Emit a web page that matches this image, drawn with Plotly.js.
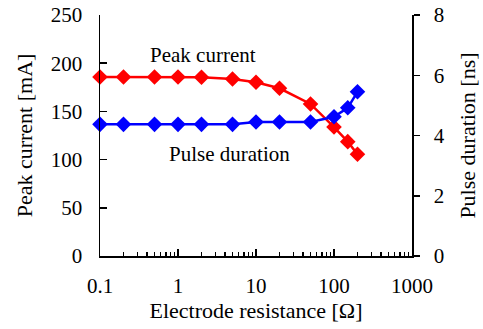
<!DOCTYPE html>
<html>
<head>
<meta charset="utf-8">
<script src="https://cdn.plot.ly/plotly-3.0.1.min.js"></script>
<style>html,body{margin:0;padding:0;background:#fff;}#chart{width:483px;height:329px;}</style>
</head>
<body>
<div id="chart"></div>
<script>
const resistance = [0.1, 0.2, 0.5, 1, 2, 5, 10, 20, 50, 100, 150, 200];
const peakCurrent = [185.7, 185.7, 185.7, 185.7, 185.5, 183.6, 180.2, 174, 157.7, 133.8, 118.6, 105.5];
const pulseDuration = [4.37, 4.37, 4.37, 4.37, 4.37, 4.37, 4.45, 4.45, 4.45, 4.62, 4.92, 5.45];
const xTicks = [0.1, 1, 10, 100, 1000];
const xTickLabels = ['0.1', '1', '10', '100', '1000'];

const font = 'Liberation Serif, DejaVu Serif, serif';
const traces = [
  {x: resistance, y: peakCurrent, type: 'scatter', mode: 'lines+markers',
   line: {color: '#ff0000', width: 2.5}, marker: {symbol: 'diamond', size: 12, color: '#ff0000'},
   cliponaxis: false, name: 'Peak current'},
  {x: resistance, y: pulseDuration, type: 'scatter', mode: 'lines+markers', yaxis: 'y2',
   line: {color: '#0000ff', width: 2.5}, marker: {symbol: 'diamond', size: 12, color: '#0000ff'},
   cliponaxis: false, name: 'Pulse duration'}
];
const layout = {
  width: 483, height: 329,
  margin: {l: 100, r: 71, t: 15, b: 73},
  paper_bgcolor: '#fff', plot_bgcolor: '#fff',
  showlegend: false,
  font: {family: font, size: 21, color: '#000'},
  xaxis: {type: 'log', range: [-1, 3], tickvals: xTicks, ticktext: xTickLabels,
    ticks: 'inside', ticklen: 7, tickwidth: 1.5, tickcolor: '#000', ticklabelstandoff: 10,
    minor: {ticks: 'inside', ticklen: 4, tickwidth: 1.2, tickcolor: '#000', dtick: 'D1', showgrid: false},
    showgrid: false, zeroline: false, showline: true, linecolor: '#000', linewidth: 1.5,
    title: {text: 'Electrode resistance [Ω]', font: {family: font, size: 22}, standoff: 4}},
  yaxis: {range: [0, 250], dtick: 50, ticks: 'inside', ticklen: 7, tickwidth: 1.5, tickcolor: '#000',
    ticklabelstandoff: 12,
    showgrid: false, zeroline: false, showline: true, linecolor: '#000', linewidth: 1.5,
    title: {text: 'Peak current [mA]', font: {family: font, size: 22}, standoff: 12}},
  yaxis2: {range: [0, 8], dtick: 2, overlaying: 'y', side: 'right', ticks: 'outside', ticklen: 6,
    tickwidth: 1.5, tickcolor: '#000', ticklabelstandoff: 10,
    showgrid: false, zeroline: false, showline: true, linecolor: '#000', linewidth: 1.5,
    title: {text: 'Pulse duration [ns]', font: {family: font, size: 22}, standoff: 16}},
  annotations: [
    {text: 'Peak current', xref: 'paper', yref: 'paper', x: (203-100)/312, y: (256-55)/241,
     xanchor: 'center', yanchor: 'middle', showarrow: false, font: {family: font, size: 21}},
    {text: 'Pulse duration', xref: 'paper', yref: 'paper', x: (229-100)/312, y: (256-154)/241,
     xanchor: 'center', yanchor: 'middle', showarrow: false, font: {family: font, size: 21}}
  ]
};
Plotly.newPlot('chart', traces, layout, {displayModeBar: false, staticPlot: true});
</script>
</body>
</html>
